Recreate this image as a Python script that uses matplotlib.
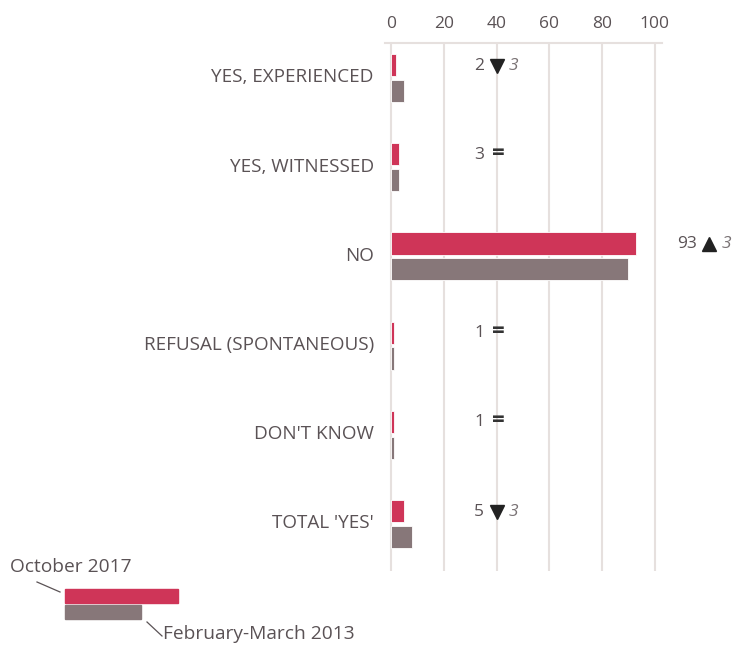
import numpy as np
import matplotlib.pyplot as plt
from matplotlib.patches import Rectangle

plt.rcParams['font.family'] = ['Open Sans', 'DejaVu Sans']

# Survey answers, share of respondents (%)
categories = ["YES, EXPERIENCED", "YES, WITNESSED", "NO",
              "REFUSAL (SPONTANEOUS)", "DON'T KNOW", "TOTAL 'YES'"]
oct_2017 = [2, 3, 93, 1, 1, 5]
feb_2013 = [5, 3, 90, 1, 1, 8]
ticks = [0, 20, 40, 60, 80, 100]

RED = '#cf3558'
GREY = '#877779'
TEXT = '#5a5255'
GRID = '#e6e0de'

fig = plt.figure(figsize=(7.33, 6.45), dpi=100)
ax = fig.add_axes([0.5252, 0.1147, 0.3779, 0.8186])

y = np.arange(len(categories))
h = 0.25
ax.barh(y - 0.145, oct_2017, height=h, color=RED, edgecolor='white', linewidth=0.6, zorder=3)
ax.barh(y + 0.145, feb_2013, height=h, color=GREY, edgecolor='white', linewidth=0.6, zorder=3)

ax.set_xlim(-2.3, 102.7)
ax.set_ylim(5.527, -0.392)
ax.set_xticks(ticks)
ax.xaxis.tick_top()
ax.tick_params(axis='x', length=0, pad=8, labelsize=12.5, labelcolor=TEXT)
ax.set_yticks(y - 0.03)
ax.set_yticklabels(categories)
ax.tick_params(axis='y', length=0, pad=8, labelsize=13.6, labelcolor=TEXT)
for t in ticks:
    ax.axvline(t, color=GRID, lw=1.5, zorder=1)
for s in ['left', 'right', 'bottom']:
    ax.spines[s].set_visible(False)
ax.spines['top'].set_color(GRID)
ax.spines['top'].set_linewidth(1.5)

# value label with change since 2013
for i, (a, b) in enumerate(zip(oct_2017, feb_2013)):
    xm = max(40, a + 27.6)
    yy = i - 0.14
    ax.annotate(str(a), (xm, yy), xytext=(-9, 0), textcoords='offset points',
                ha='right', va='center', fontsize=12.5, color=TEXT, annotation_clip=False)
    diff = a - b
    if diff == 0:
        ax.annotate('=', (xm, yy), xytext=(1, 1), textcoords='offset points',
                    ha='center', va='center', fontsize=16,
                    fontweight='bold', color='#333333', annotation_clip=False)
    else:
        ax.plot([xm], [yy], marker='^' if diff > 0 else 'v', ms=10.5, color='#222222',
                clip_on=False, zorder=4)
        ax.annotate(str(abs(diff)), (xm, yy), xytext=(9, 0), textcoords='offset points',
                    ha='left', va='center', fontsize=12.5, style='italic',
                    color='#7a7375', annotation_clip=False)

# legend drawn in pixel space
lg = fig.add_axes([0, 0, 1, 1])
lg.set_xlim(0, 733)
lg.set_ylim(645, 0)
lg.axis('off')
lg.add_patch(Rectangle((65, 589), 113, 14, color=RED))
lg.add_patch(Rectangle((65, 605), 76, 14, color=GREY))
lg.plot([37, 60], [582, 592], color=TEXT, lw=0.9)
lg.plot([147, 162], [622, 636], color=TEXT, lw=0.9)
lg.text(10, 567, 'October 2017', fontsize=13.8, color=TEXT, va='center', ha='left')
lg.text(163, 634, 'February-March 2013', fontsize=13.8, color=TEXT, va='center', ha='left')

fig.savefig('out.png', dpi=100)
